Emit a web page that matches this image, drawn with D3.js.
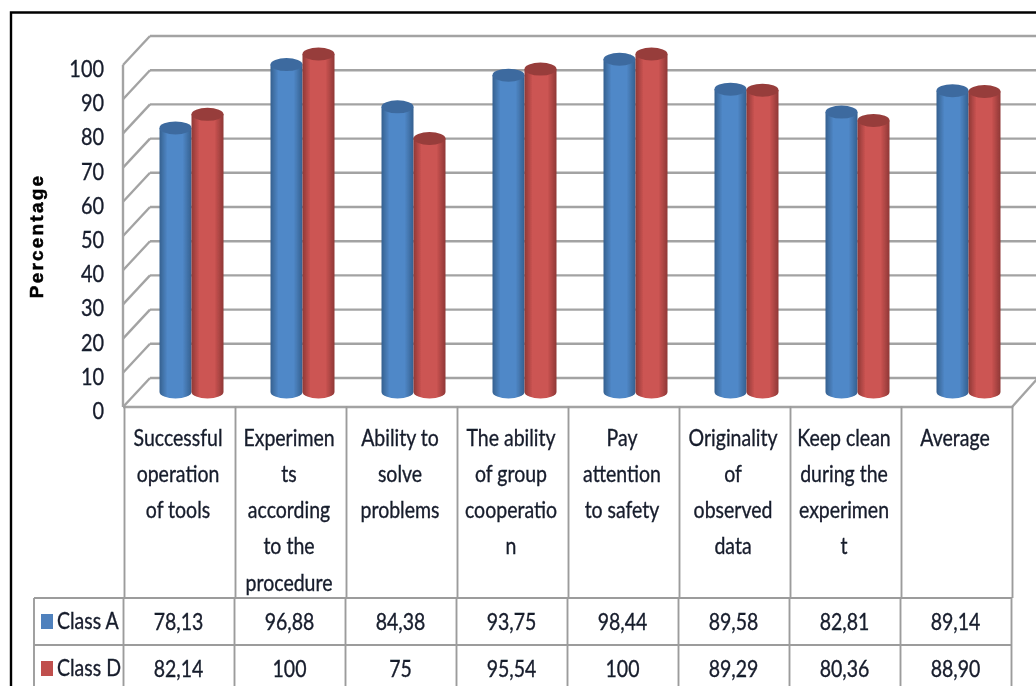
<!DOCTYPE html>
<html>
<head>
<meta charset="utf-8">
<script src="https://cdn.jsdelivr.net/npm/d3@7"></script>
<style>
  html, body { margin: 0; padding: 0; background: #fff; }
  text { font-family: Lato, "Liberation Sans", sans-serif; fill: #161c2c; }
</style>
</head>
<body>
<div id="chart"></div>
<script>
// chart data
const categories = [
    ['Successful', 'operation', 'of tools'],
    ['Experimen', 'ts', 'according', 'to the', 'procedure'],
    ['Ability to', 'solve', 'problems'],
    ['The ability', 'of group', 'cooperatio', 'n'],
    ['Pay', 'attention', 'to safety'],
    ['Originality', 'of', 'observed', 'data'],
    ['Keep clean', 'during the', 'experimen', 't'],
    ['Average']
];
const seriesNames = ['Class A', 'Class D'];
const classALabels = ['78,13', '96,88', '84,38', '93,75', '98,44', '89,58', '82,81', '89,14'];
const classDLabels = ['82,14', '100', '75', '95,54', '100', '89,29', '80,36', '88,90'];
const yTicks = [0, 10, 20, 30, 40, 50, 60, 70, 80, 90, 100];
const yTitle = 'Percentage';

const toNumber = s => +s.replace(',', '.');
const classA = classALabels.map(toNumber);
const classD = classDLabels.map(toNumber);

const width = 1036;
const height = 686;

const seriesStyle = [
    { edge: '#35608f', mid: '#5088c8', top: '#3e6b9f', swatch: '#4f81bd' },
    { edge: '#8f3836', mid: '#cc5452', top: '#973d3b', swatch: '#c0504d' }
];

const svg = d3.select('#chart')
    .append('svg')
    .attr('width', width)
    .attr('height', height)
    .style('display', 'block');

const defs = svg.append('defs');
const blur = defs.append('filter').attr('id', 'soft');
blur.append('feGaussianBlur').attr('stdDeviation', 0.5);

seriesStyle.forEach((s, i) => {
    const grad = defs.append('linearGradient').attr('id', 'cyl' + i);
    grad.append('stop').attr('offset', '0%').attr('stop-color', s.edge);
    grad.append('stop').attr('offset', '25%').attr('stop-color', s.mid);
    grad.append('stop').attr('offset', '72%').attr('stop-color', s.mid);
    grad.append('stop').attr('offset', '100%').attr('stop-color', s.edge);
});

const root = svg.append('g').attr('filter', 'url(#soft)');

// the reference font is a condensed one, so Lato gets squeezed horizontally
const squeeze = 0.83;
function addLabel(parent, str, px, py, anchor, size) {
    return parent.append('text')
        .attr('transform', `translate(${px},${py}) scale(${squeeze},1)`)
        .attr('text-anchor', anchor)
        .attr('font-size', size)
        .attr('stroke', '#161c2c')
        .attr('stroke-width', 0.35)
        .text(str);
}

// scales: front plane of the box, back wall and bar plane share the same domain
const x = d3.scaleBand().domain(d3.range(categories.length)).range([124, 1012]);
const xSeries = d3.scaleBand().domain([0, 1]).range([0, 64]);
const yFront = d3.scaleLinear().domain([0, 100]).range([407, 65]);
const yBack = d3.scaleLinear().domain([0, 100]).range([378, 36]);
const yBar = d3.scaleLinear().domain([0, 100]).range([392, 54]);
const depthX = 26;
const gridColor = '#a3a3a3';

// back wall grid and the left wall diagonals
const grid = root.append('g').attr('class', 'grid')
    .attr('stroke', gridColor).attr('stroke-width', 2.4).attr('fill', 'none');

grid.selectAll('line.back')
    .data(yTicks)
    .join('line')
    .attr('class', 'back')
    .attr('x1', x.range()[0] + depthX)
    .attr('x2', width + 5)
    .attr('y1', d => yBack(d))
    .attr('y2', d => yBack(d));

grid.selectAll('line.side')
    .data(yTicks)
    .join('line')
    .attr('class', 'side')
    .attr('x1', x.range()[0] - 1)
    .attr('x2', x.range()[0] + depthX)
    .attr('y1', d => yFront(d))
    .attr('y2', d => yBack(d));

grid.append('line')
    .attr('x1', x.range()[0] - 1).attr('x2', x.range()[0] - 1)
    .attr('y1', yFront(0)).attr('y2', yFront(100));

// floor front edge and its right corner
grid.append('line')
    .attr('x1', x.range()[0] - 1).attr('x2', x.range()[1])
    .attr('y1', yFront(0)).attr('y2', yFront(0));
grid.append('line')
    .attr('x1', x.range()[1]).attr('x2', x.range()[1] + depthX)
    .attr('y1', yFront(0)).attr('y2', yBack(0));

// cylinders
const rx = xSeries.bandwidth() / 2;
const ry = 6.5;
const barOffset = 12;
const barData = [];
categories.forEach((c, i) => {
    barData.push({ cat: i, s: 0, value: classA[i] });
    barData.push({ cat: i, s: 1, value: classD[i] });
});

const bars = root.append('g').attr('class', 'bars')
    .selectAll('g.bar')
    .data(barData)
    .join('g')
    .attr('class', 'bar')
    .attr('transform', d => `translate(${x(d.cat) + (x.bandwidth() - 64) / 2 + barOffset + xSeries(d.s)},0)`);

bars.append('path')
    .attr('fill', d => `url(#cyl${d.s})`)
    .attr('d', d => {
        const top = yBar(d.value);
        const base = yBar(0);
        return `M0,${top}L0,${base}A${rx},${ry} 0 0 0 ${rx * 2},${base}L${rx * 2},${top}Z`;
    });

bars.append('ellipse')
    .attr('cx', rx)
    .attr('cy', d => yBar(d.value))
    .attr('rx', rx)
    .attr('ry', ry)
    .attr('fill', d => seriesStyle[d.s].top);

// y axis labels
const yLabels = root.append('g').attr('class', 'y-labels');
yTicks.forEach(t => addLabel(yLabels, t, 104, yFront(t) + 12, 'end', 24));

root.append('text')
    .attr('transform', 'translate(43,236) rotate(-90)')
    .attr('text-anchor', 'middle')
    .attr('font-size', 19)
    .attr('font-weight', 'bold')
    .attr('stroke', '#000')
    .attr('stroke-width', 0.5)
    .style('font-family', '"Liberation Sans", sans-serif')
    .style('letter-spacing', '2.2px')
    .style('fill', '#000')
    .text(yTitle);

// data table under the plot
const tableTop = 406;
const rowY = [598, 645];
const rowH = 47;
const legendLeft = 34;
const table = root.append('g').attr('class', 'table');
const tableLine = { stroke: '#9c9c9c', width: 1.9 };

table.selectAll('line.col')
    .data(d3.range(categories.length + 1))
    .join('line')
    .attr('class', 'col')
    .attr('x1', d => (d < categories.length ? x(d) : x.range()[1]) + 0.5)
    .attr('x2', d => (d < categories.length ? x(d) : x.range()[1]) + 0.5)
    .attr('y1', tableTop)
    .attr('y2', rowY[0])
    .attr('stroke', tableLine.stroke)
    .attr('stroke-width', tableLine.width);

table.selectAll('line.rowcol')
    .data(d3.range(categories.length + 1))
    .join('line')
    .attr('class', 'rowcol')
    .attr('x1', d => (d < categories.length ? x(d) : x.range()[1]) - 0.5)
    .attr('x2', d => (d < categories.length ? x(d) : x.range()[1]) - 0.5)
    .attr('y1', rowY[0])
    .attr('y2', height)
    .attr('stroke', tableLine.stroke)
    .attr('stroke-width', tableLine.width);

table.append('line')
    .attr('x1', legendLeft).attr('x2', legendLeft)
    .attr('y1', rowY[0]).attr('y2', height)
    .attr('stroke', tableLine.stroke).attr('stroke-width', tableLine.width);

table.selectAll('line.row')
    .data(rowY)
    .join('line')
    .attr('class', 'row')
    .attr('x1', legendLeft)
    .attr('x2', x.range()[1])
    .attr('y1', d => d)
    .attr('y2', d => d)
    .attr('stroke', tableLine.stroke)
    .attr('stroke-width', tableLine.width);

const cellFont = 23.5;
categories.forEach((lines, i) => {
    lines.forEach((line, n) => {
        addLabel(table, line, x(i) + x.bandwidth() / 2 - 1.5, 445.5 + n * 36.3, 'middle', cellFont);
    });
});

[classALabels, classDLabels].forEach((labels, s) => {
    const cy = rowY[0] + rowH * s + 24;
    table.append('rect')
        .attr('x', 41).attr('y', cy - 8)
        .attr('width', 12).attr('height', 15)
        .attr('fill', seriesStyle[s].swatch);
    addLabel(table, seriesNames[s], 57, cy + 7, 'start', cellFont);
    labels.forEach((label, i) => {
        addLabel(table, label, x(i) + x.bandwidth() / 2 - 1, cy + 8, 'middle', cellFont);
    });
});

// black frame of the pasted picture
svg.append('path')
    .attr('d', `M11,${height}V12.5H${width}`)
    .attr('fill', 'none')
    .attr('stroke', '#000')
    .attr('stroke-width', 2.4);
</script>
</body>
</html>
